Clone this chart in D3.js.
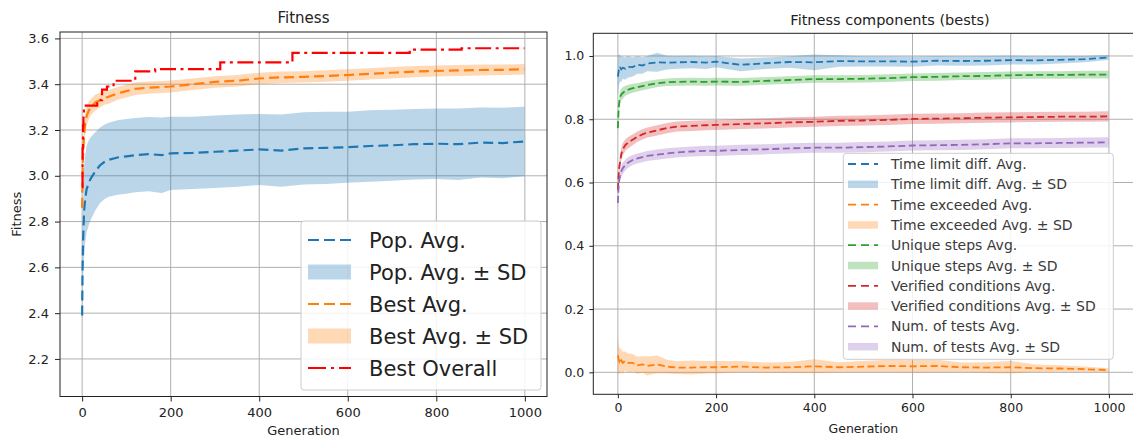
<!DOCTYPE html>
<html><head><meta charset="utf-8">
<script src="https://cdn.jsdelivr.net/npm/d3@7"></script>
<style>html,body{margin:0;padding:0;background:#fff;overflow:hidden}</style>
</head><body><svg id="c" width="1133" height="439"></svg>
<script>
// ---------------- DATA ----------------
const gens = [0,1,2,3,4,5,7,10,15,20,30,40,50,60,80,100,120,150,180,200,250,300,350,400,450,500,550,600,650,700,750,800,850,900,950,999];

// Left panel: Fitness
const popAvg  = [2.39,2.60,2.70,2.77,2.82,2.86,2.90,2.94,2.97,2.99,3.02,3.045,3.06,3.07,3.08,3.085,3.09,3.095,3.09,3.098,3.10,3.105,3.11,3.115,3.11,3.12,3.122,3.125,3.13,3.133,3.138,3.14,3.138,3.145,3.143,3.15];
const popSD   = [0.03,0.10,0.15,0.18,0.20,0.20,0.19,0.19,0.185,0.18,0.17,0.165,0.163,0.162,0.163,0.163,0.162,0.162,0.165,0.16,0.158,0.158,0.158,0.155,0.158,0.158,0.158,0.155,0.156,0.155,0.154,0.154,0.156,0.153,0.154,0.152];
const bestAvg = [2.86,3.00,3.08,3.13,3.16,3.19,3.23,3.26,3.285,3.30,3.32,3.33,3.34,3.345,3.36,3.37,3.38,3.385,3.388,3.39,3.40,3.41,3.415,3.425,3.43,3.432,3.436,3.44,3.445,3.45,3.455,3.458,3.46,3.462,3.463,3.465];
const bestSD  = [0.01,0.04,0.05,0.05,0.05,0.045,0.045,0.04,0.04,0.035,0.035,0.032,0.03,0.03,0.028,0.028,0.027,0.027,0.026,0.026,0.025,0.025,0.025,0.025,0.025,0.025,0.025,0.025,0.025,0.025,0.025,0.024,0.024,0.024,0.023,0.023];
const overallGens = [0,1,2,3,4,5,34,45,56,71,120,165,312,475,740,857,999];
const overallVals = [2.95,3.12,3.22,3.27,3.30,3.306,3.33,3.376,3.39,3.415,3.456,3.466,3.495,3.537,3.551,3.557,3.557];

// Right panel: Fitness components (bests)
const tlAvg = [0.935,0.945,0.955,0.96,0.957,0.962,0.958,0.963,0.96,0.966,0.965,0.972,0.97,0.976,0.98,0.979,0.98,0.981,0.979,0.982,0.972,0.977,0.981,0.98,0.984,0.983,0.983,0.982,0.985,0.984,0.985,0.987,0.986,0.988,0.99,0.995];
const tlSD  = [0.06,0.06,0.05,0.045,0.045,0.04,0.04,0.035,0.035,0.035,0.03,0.028,0.026,0.024,0.03,0.022,0.02,0.02,0.02,0.018,0.02,0.018,0.018,0.025,0.018,0.016,0.016,0.016,0.015,0.015,0.015,0.014,0.013,0.012,0.01,0.008];
const teAvg = [0.054,0.045,0.04,0.035,0.04,0.033,0.038,0.03,0.036,0.03,0.03,0.022,0.025,0.02,0.025,0.018,0.015,0.015,0.016,0.016,0.018,0.015,0.016,0.019,0.016,0.018,0.02,0.019,0.02,0.016,0.015,0.016,0.013,0.012,0.01,0.007];
const teSD  = [0.06,0.05,0.045,0.04,0.04,0.04,0.035,0.035,0.03,0.03,0.028,0.027,0.026,0.03,0.028,0.022,0.02,0.022,0.02,0.02,0.018,0.016,0.017,0.022,0.016,0.018,0.02,0.02,0.02,0.015,0.017,0.02,0.012,0.01,0.008,0.006];
const usAvg = [0.772,0.81,0.84,0.855,0.865,0.871,0.878,0.883,0.89,0.893,0.898,0.901,0.905,0.908,0.914,0.917,0.918,0.919,0.918,0.919,0.918,0.921,0.924,0.927,0.927,0.928,0.93,0.933,0.934,0.936,0.937,0.939,0.94,0.94,0.941,0.941];
const usSD  = [0.005,0.02,0.02,0.02,0.02,0.02,0.018,0.018,0.016,0.015,0.014,0.013,0.013,0.013,0.012,0.012,0.012,0.012,0.012,0.012,0.012,0.012,0.012,0.012,0.012,0.012,0.012,0.012,0.012,0.012,0.012,0.012,0.012,0.012,0.012,0.012];
const vcAvg = [0.577,0.61,0.635,0.65,0.66,0.668,0.69,0.705,0.718,0.725,0.735,0.745,0.752,0.758,0.765,0.772,0.777,0.779,0.781,0.782,0.785,0.787,0.79,0.792,0.795,0.796,0.798,0.801,0.802,0.803,0.805,0.806,0.807,0.808,0.808,0.809];
const vcSD  = [0.005,0.02,0.02,0.02,0.02,0.02,0.02,0.02,0.018,0.018,0.017,0.016,0.016,0.016,0.016,0.016,0.016,0.016,0.016,0.016,0.016,0.016,0.016,0.016,0.016,0.016,0.016,0.016,0.016,0.016,0.016,0.016,0.016,0.016,0.016,0.016];
const ntAvg = [0.535,0.57,0.595,0.61,0.618,0.625,0.635,0.645,0.655,0.662,0.671,0.676,0.68,0.684,0.688,0.692,0.695,0.698,0.70,0.70,0.703,0.705,0.708,0.71,0.71,0.712,0.714,0.717,0.718,0.719,0.721,0.724,0.724,0.725,0.726,0.727];
const ntSD  = [0.005,0.018,0.018,0.018,0.018,0.018,0.018,0.018,0.017,0.017,0.016,0.016,0.016,0.016,0.016,0.016,0.016,0.016,0.016,0.016,0.016,0.016,0.016,0.016,0.016,0.016,0.016,0.016,0.016,0.016,0.016,0.016,0.016,0.016,0.016,0.016];

// Ticks & labels
const xTicks = [0,200,400,600,800,1000];
const leftYTicks = [2.2,2.4,2.6,2.8,3.0,3.2,3.4,3.6];
const rightYTicks = [0.0,0.2,0.4,0.6,0.8,1.0];
const leftLegend = ["Pop. Avg.","Pop. Avg. \u00b1 SD","Best Avg.","Best Avg. \u00b1 SD","Best Overall"];
const compNames = ["Time limit diff.","Time exceeded","Unique steps","Verified conditions","Num. of tests"];

// ---------------- DRAWING ----------------
const FONT = "'DejaVu Sans', sans-serif";
const svg = d3.select('#c');
const defs = svg.append('defs');
const C = {blue:'#1f77b4', orange:'#ff7f0e', green:'#2ca02c', red:'#d62728', purple:'#9467bd'};

function zip(xs, ys){ return xs.map((g,i)=>({g, v:ys[i]})); }
function zipBand(xs, m, s){ return xs.map((g,i)=>({g, lo:m[i]-s[i], hi:m[i]+s[i]})); }

function panel(o){
  const g = svg.append('g');
  const x = d3.scaleLinear().domain(o.xDomain).range([o.left, o.right]);
  const y = d3.scaleLinear().domain(o.yDomain).range([o.bottom, o.top]);
  defs.append('clipPath').attr('id','clip'+o.key).append('rect')
    .attr('x',o.left).attr('y',o.top).attr('width',o.right-o.left).attr('height',o.bottom-o.top);

  // grid
  g.append('g').selectAll('line').data(o.xTicks).join('line')
    .attr('x1',d=>x(d)).attr('x2',d=>x(d)).attr('y1',o.top).attr('y2',o.bottom)
    .attr('stroke','#b0b0b0').attr('stroke-width',1);
  g.append('g').selectAll('line').data(o.yTicks).join('line')
    .attr('y1',d=>y(d)).attr('y2',d=>y(d)).attr('x1',o.left).attr('x2',o.right)
    .attr('stroke','#b0b0b0').attr('stroke-width',1);

  const plot = g.append('g').attr('clip-path','url(#clip'+o.key+')');
  const line = d3.line().x(d=>x(d.g)).y(d=>y(d.v));
  const area = d3.area().x(d=>x(d.g)).y0(d=>y(d.lo)).y1(d=>y(d.hi));
  o.series.forEach(s=>{
    if(s.type==='band'){
      plot.append('path').attr('d',area(s.data)).attr('fill',s.color).attr('fill-opacity',0.3).attr('stroke','none');
    } else {
      const ln = s.step ? d3.line().x(d=>x(d.g)).y(d=>y(d.v)).curve(d3.curveStepAfter) : line;
      plot.append('path').attr('d',ln(s.data)).attr('fill','none').attr('stroke',s.color)
        .attr('stroke-width',s.width).attr('stroke-dasharray',s.dash);
    }
  });

  // axes
  const xa = g.append('g').attr('transform',`translate(0,${o.bottom})`)
    .call(d3.axisBottom(x).tickValues(o.xTicks).tickSize(o.tick).tickSizeOuter(0).tickPadding(o.pad).tickFormat(d3.format('d')));
  const ya = g.append('g').attr('transform',`translate(${o.left},0)`)
    .call(d3.axisLeft(y).tickValues(o.yTicks).tickSize(o.tick).tickSizeOuter(0).tickPadding(o.pad).tickFormat(d3.format('.1f')));
  [xa,ya].forEach(a=>{
    a.select('.domain').remove();
    a.selectAll('text').attr('font-family',FONT).attr('font-size',o.tickFont).attr('fill','#222');
    a.selectAll('line').attr('stroke','#222').attr('stroke-width',1);
  });
  // spines
  g.append('rect').attr('x',o.left).attr('y',o.top).attr('width',o.right-o.left).attr('height',o.bottom-o.top)
    .attr('fill','none').attr('stroke','#222').attr('stroke-width',1);

  // title & labels
  g.append('text').attr('x',o.titleX).attr('y',o.titleY).attr('text-anchor','middle')
    .attr('font-family',FONT).attr('font-size',o.titleFont).attr('fill','#222').text(o.title);
  g.append('text').attr('x',(o.left+o.right)/2).attr('y',o.xLabelY).attr('text-anchor','middle')
    .attr('font-family',FONT).attr('font-size',o.tickFont).attr('fill','#222').text('Generation');
  if(o.yLabel){
    g.append('text').attr('transform',`translate(${o.yLabelX},${(o.top+o.bottom)/2}) rotate(-90)`)
      .attr('text-anchor','middle').attr('font-family',FONT).attr('font-size',o.tickFont).attr('fill','#222').text(o.yLabel);
  }

  // legend
  const L = o.legend;
  const lg = g.append('g');
  lg.append('rect').attr('x',L.x).attr('y',L.y).attr('width',L.w).attr('height',L.h).attr('rx',3)
    .attr('fill','#fff').attr('fill-opacity',0.85).attr('stroke','#cccccc').attr('stroke-width',1);
  L.items.forEach((it,i)=>{
    const cy = L.y + L.first + i*L.step;
    if(it.type==='band'){
      lg.append('rect').attr('x',L.hx).attr('y',cy-L.bh/2).attr('width',L.hw).attr('height',L.bh)
        .attr('fill',it.color).attr('fill-opacity',0.3);
    } else {
      lg.append('line').attr('x1',L.hx).attr('x2',L.hx+L.hw).attr('y1',cy).attr('y2',cy)
        .attr('stroke',it.color).attr('stroke-width',it.width).attr('stroke-dasharray',it.ldash||it.dash);
    }
    lg.append('text').attr('x',L.tx).attr('y',cy+L.base).attr('font-family',FONT).attr('font-size',L.font)
      .attr('fill',L.color).text(it.label);
  });
}

// ---- Left panel ----
const LD = '10,5', LW = 2.2, RD = '7,3.5', RW = 1.8;
const leftSeries = [
  {type:'line', color:C.blue, dash:LD, width:LW, data:zip(gens,popAvg), label:leftLegend[0], ldash:'11,5'},
  {type:'band', color:C.blue, data:zipBand(gens,popAvg,popSD), label:leftLegend[1]},
  {type:'line', color:C.orange, dash:LD, width:LW, data:zip(gens,bestAvg), label:leftLegend[2], ldash:'11,5'},
  {type:'band', color:C.orange, data:zipBand(gens,bestAvg,bestSD), label:leftLegend[3]},
  {type:'line', color:'#ff0000', dash:'16,4.5,3,4.5', width:LW, step:true, data:zip(overallGens,overallVals), label:leftLegend[4], ldash:'18,5,3,5'}
];
panel({
  key:'L', left:60, right:547, top:32, bottom:396.5,
  xDomain:[-50,1050], yDomain:[2.036,3.628],
  xTicks, yTicks:leftYTicks, tick:5, pad:6, tickFont:13,
  title:'Fitness', titleX:303.5, titleY:23, titleFont:15,
  xLabelY:435, yLabel:'Fitness', yLabelX:21,
  series:leftSeries,
  legend:{x:301, y:221, w:240, h:169, first:19, step:32, hx:308, hw:43, bh:15, tx:369, base:7.6, font:21, color:'#222', items:leftSeries}
});

// ---- Right panel ----
const compAvg = [tlAvg,teAvg,usAvg,vcAvg,ntAvg];
const compSD = [tlSD,teSD,usSD,vcSD,ntSD];
const compCol = [C.blue,C.orange,C.green,C.red,C.purple];
const rightSeries = [];
compNames.forEach((n,i)=>{
  rightSeries.push({type:'line', color:compCol[i], dash:RD, width:RW, data:zip(gens,compAvg[i]), label:n+' Avg.', ldash:'8,5'});
  rightSeries.push({type:'band', color:compCol[i], data:zipBand(gens,compAvg[i],compSD[i]), label:n+' Avg. \u00b1 SD'});
});
panel({
  key:'R', left:593.3, right:1133.5, top:33.3, bottom:394.3,
  xDomain:[-50,1050], yDomain:[-0.0695,1.0717],
  xTicks, yTicks:rightYTicks, tick:4, pad:5, tickFont:12.5,
  title:'Fitness components (bests)', titleX:890, titleY:25, titleFont:14.5,
  xLabelY:433, yLabel:null,
  series:rightSeries,
  legend:{x:843.3, y:153.3, w:270, h:206, first:10.7, step:20.3, hx:848, hw:30, bh:7.5, tx:891, base:5, font:14, color:'#3a3a3a', items:rightSeries}
});
</script>
</body></html>
